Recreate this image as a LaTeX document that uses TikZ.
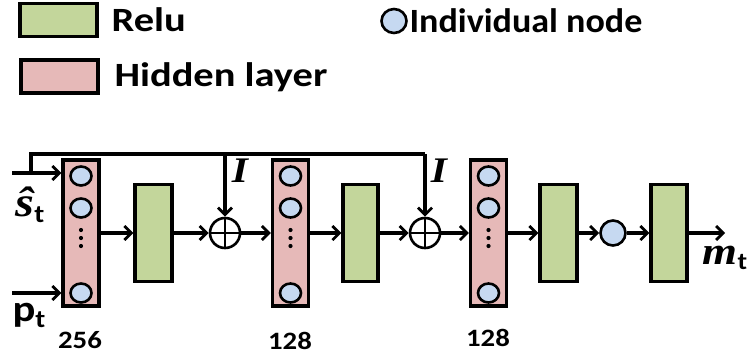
\documentclass[tikz,border=0pt]{standalone}
\usepackage{fontspec}
\setmainfont{Carlito}
\newfontfamily\serifbi{Liberation Serif}
\usetikzlibrary{arrows.meta,shapes.geometric}
\definecolor{relug}{HTML}{C3D69B}
\definecolor{hidr}{HTML}{E6B9B8}
\definecolor{nodeb}{HTML}{C6D9F1}
\newcommand{\sx}[1]{\scalebox{1.15}[1]{#1}}
\tikzset{
  relubox/.style={draw, fill=relug, rectangle, minimum width=37, minimum height=97, inner sep=0},
  hidbox/.style={draw, fill=hidr, rectangle, minimum width=36, minimum height=146, inner sep=0},
  unit/.style={draw, fill=nodeb, ellipse, minimum width=21, minimum height=19, inner sep=0, line width=2.6pt},
  sumnode/.style={draw, circle, minimum size=30, inner sep=0, line width=2.6pt,
    path picture={\draw[line width=2.6pt] (path picture bounding box.north) -- (path picture bounding box.south)
      (path picture bounding box.west) -- (path picture bounding box.east);}},
  legtext/.style={anchor=west, inner sep=0, font=\fontsize{34}{38}\selectfont\bfseries},
  numtext/.style={inner sep=0, font=\fontsize{25}{28}\selectfont\bfseries},
  flow/.style={->},
}
\begin{document}
\begin{tikzpicture}[x=1pt, y=-1pt, line width=3.1pt,
  >={Straight Barb[length=7pt,width=14pt,line width=2.8pt]}]
\useasboundingbox (0,0) rectangle (751,356);

% legend
\node[relubox, minimum width=77, minimum height=33] (lrelu) at (58.5,20) {};
\node[legtext] (lrelut) at (110,20) {\scalebox{1.19}[1]{Relu}};
\node[hidbox, minimum width=77, minimum height=33] (lhid) at (59.5,76.5) {};
\node[legtext] (lhidt) at (113,77) {\scalebox{1.19}[1]{Hidden layer}};
\node[unit, minimum width=25, minimum height=24] (lnode) at (394,21) {};
\node[legtext] (lnodet) at (408,21) {\scalebox{1.06}[1]{Individual node}};

% hidden layers
\foreach \n/\x in {h1/81, h2/290.5, h3/488.5}{
  \node[hidbox] (\n) at (\x,233) {};
  \node[unit] (\n a) at (\x,176) {};
  \node[unit] (\n b) at (\x,208) {};
  \node[unit] (\n c) at (\x,293) {};
  \foreach \d in {230,238,246} \fill (\x,\d) circle (2.1);
}
% relu boxes
\node[relubox] (r1) at (153.5,233) {};
\node[relubox, minimum width=35] (r2) at (360.5,233) {};
\node[relubox] (r3) at (558.5,233) {};
\node[relubox, minimum width=36] (r4) at (669,233) {};
% sums
\node[sumnode] (o1) at (225,233) {};
\node[sumnode] (o2) at (425,233) {};
% single node
\node[unit, minimum width=25, minimum height=25] (n1) at (613,233) {};

% inputs
\coordinate (s0) at (12,173);
\coordinate (p0) at (12,293);
\coordinate (j) at (31,173);
\coordinate (tl) at (31,154);
\coordinate (t1) at (225,154);
\coordinate (t2) at (425,154);
\coordinate (out) at (725,233);

\draw[flow] (s0) -- (s0 -| h1.west);
\draw[flow] (p0) -- (p0 -| h1.west);
\draw (j) -- (tl) -- (t2);
\draw[flow] (t1) -- (o1);
\draw[flow] (t2) -- (o2);

\draw[flow] (h1) -- (r1);
\draw[flow] (r1) -- (o1);
\draw[flow] (o1) -- (h2);
\draw[flow] (h2) -- (r2);
\draw[flow] (r2) -- (o2);
\draw[flow] (o2) -- (h3);
\draw[flow] (h3) -- (r3);
\draw[flow] (r3) -- (n1);
\draw[flow] (n1) -- (r4);
\draw[flow] (r4) -- (out);

% labels
\node[inner sep=0] (sl) at (30,205) {\sx{{\fontsize{42}{42}\selectfont\serifbi\bfseries\itshape \^{s}}\raisebox{-6pt}{\fontsize{25}{25}\selectfont\bfseries t}}};
\node[inner sep=0] (pl) at (29,315) {\sx{{\fontsize{37}{37}\selectfont\bfseries p}\raisebox{-6pt}{\fontsize{25}{25}\selectfont\bfseries t}}};
\node[inner sep=0] (ml) at (725,258) {\sx{{\fontsize{39}{39}\selectfont\serifbi\bfseries\itshape m}\raisebox{-5pt}{\fontsize{24}{24}\selectfont\bfseries t}}};
\node[inner sep=0] (i1) at (240,171) {\sx{\fontsize{36}{36}\selectfont\serifbi\bfseries\itshape I}};
\node[inner sep=0] (i2) at (439,171) {\sx{\fontsize{36}{36}\selectfont\serifbi\bfseries\itshape I}};
\node[numtext] (n256) at (80,340) {\sx{256}};
\node[numtext] (n128a) at (290,341) {\sx{128}};
\node[numtext] (n128b) at (488,338) {\sx{128}};
\end{tikzpicture}
\end{document}
